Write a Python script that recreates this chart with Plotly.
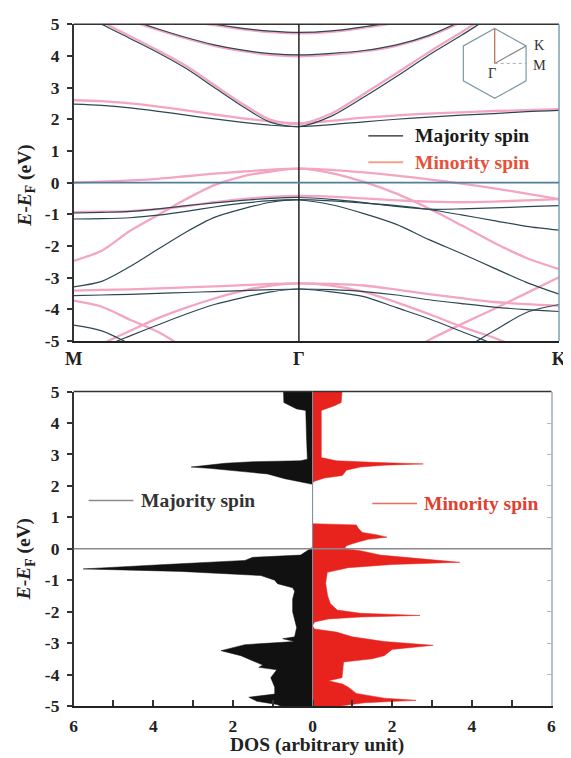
import plotly.graph_objects as go

# ---------------- data: band structure ----------------
# k-path coordinate (M -> Gamma -> K), |GM| = 0.866 |GK|
k_path = [0.0, 0.108, 0.217, 0.325, 0.433, 0.541, 0.650, 0.758, 0.866,
          0.991, 1.116, 1.241, 1.366, 1.491, 1.616, 1.741, 1.866]
k_ticks = [0.0, 0.866, 1.866]
k_labels = ["M", "Γ", "K"]

# majority-spin bands (eV)
maj_A = [2.48, 2.44, 2.36, 2.25, 2.13, 2.01, 1.90, 1.81, 1.77, 1.83, 1.92, 2.00, 2.07, 2.13, 2.18, 2.24, 2.28]
maj_B = [5.50, 5.00, 4.55, 4.10, 3.60, 3.00, 2.40, 1.90, 1.77, 2.10, 2.70, 3.35, 4.03, 4.65, 5.30, 5.90, 6.50]
maj_C = [5.90, 5.50, 5.15, 4.85, 4.58, 4.35, 4.18, 4.07, 4.03, 4.08, 4.17, 4.35, 4.65, 5.10, 5.60, 6.10, 6.60]
maj_D = [6.00, 5.80, 5.60, 5.40, 5.15, 5.00, 4.87, 4.78, 4.74, 4.79, 4.92, 5.08, 5.30, 5.50, 5.70, 5.90, 6.00]
maj_F = [-1.15, -1.14, -1.11, -1.03, -0.91, -0.77, -0.65, -0.57, -0.54, -0.58, -0.65, -0.73, -0.85, -1.02, -1.20, -1.38, -1.50]
maj_G = [-0.96, -0.94, -0.91, -0.83, -0.73, -0.64, -0.56, -0.50, -0.47, -0.53, -0.63, -0.75, -0.84, -0.83, -0.80, -0.76, -0.73]
maj_H = [-3.29, -3.12, -2.65, -2.10, -1.56, -1.10, -0.83, -0.62, -0.55, -0.70, -0.98, -1.32, -1.80, -2.24, -2.70, -3.15, -3.52]
maj_I = [-3.57, -3.55, -3.53, -3.50, -3.47, -3.44, -3.41, -3.38, -3.36, -3.38, -3.44, -3.55, -3.70, -3.82, -3.93, -4.01, -4.07]
maj_J1 = [-4.50, -4.68, -5.10, -5.60, -6.10, None, None, None, None, None, None, None, None, None, None, None, None]
maj_J2 = [-5.60, -5.20, -4.84, -4.49, -4.15, -3.85, -3.63, -3.45, -3.36, -3.45, -3.60, -3.95, -4.30, -4.70, -5.10, -5.50, -5.90]
maj_L = [None, None, None, None, None, None, None, None, None, None, None, None, -5.90, -5.30, -4.68, -4.10, -3.85]

# minority-spin bands (eV)
min_A = [2.60, 2.57, 2.50, 2.40, 2.28, 2.15, 2.03, 1.93, 1.87, 1.95, 2.05, 2.12, 2.18, 2.22, 2.26, 2.29, 2.32]
min_B = [5.60, 5.08, 4.62, 4.17, 3.68, 3.08, 2.48, 1.98, 1.85, 2.18, 2.80, 3.45, 4.12, 4.75, 5.40, 6.00, 6.60]
min_C = [5.90, 5.50, 5.12, 4.82, 4.55, 4.32, 4.15, 4.03, 3.99, 4.04, 4.14, 4.32, 4.62, 5.07, 5.60, 6.10, 6.60]
min_D = [6.00, 5.80, 5.60, 5.40, 5.12, 4.97, 4.84, 4.75, 4.71, 4.76, 4.89, 5.05, 5.27, 5.47, 5.70, 5.90, 6.00]
min_Z = [0.00, 0.03, 0.07, 0.12, 0.20, 0.28, 0.35, 0.41, 0.44, 0.40, 0.32, 0.22, 0.10, -0.03, -0.18, -0.35, -0.52]
min_H = [-2.47, -2.15, -1.52, -1.02, -0.52, -0.08, 0.20, 0.35, 0.44, 0.30, 0.02, -0.35, -0.82, -1.35, -1.90, -2.38, -2.73]
min_G = [-0.93, -0.92, -0.90, -0.84, -0.74, -0.62, -0.52, -0.45, -0.42, -0.44, -0.50, -0.56, -0.60, -0.62, -0.60, -0.56, -0.52]
min_I = [-3.41, -3.39, -3.37, -3.34, -3.31, -3.28, -3.24, -3.20, -3.18, -3.20, -3.25, -3.38, -3.52, -3.65, -3.77, -3.84, -3.89]
min_J2 = [-5.60, -5.10, -4.68, -4.28, -3.95, -3.66, -3.42, -3.25, -3.18, -3.25, -3.45, -3.78, -4.15, -4.55, -4.90, -5.30, -5.70]
min_J3 = [-3.73, -3.92, -4.33, -4.72, -5.25, -5.80, None, None, None, None, None, None, None, None, None, None, None]
min_L = [None, None, None, None, None, None, None, None, None, None, None, -5.50, -4.97, -4.47, -3.99, -3.49, -2.99]

majority_bands = [maj_A, maj_B, maj_C, maj_D, maj_F, maj_G, maj_H, maj_I, maj_J1, maj_J2, maj_L]
minority_bands = [min_A, min_B, min_C, min_D, min_Z, min_H, min_G, min_I, min_J2, min_J3, min_L]

# ---------------- data: DOS ----------------
e_maj = [5.0, 4.65, 4.45, 4.4, 3.5, 2.85, 2.8, 2.77, 2.72, 2.65, 2.6, 2.56, 2.49, 2.38, 2.23, 2.12, 2.05,
         0.05, -0.05, -0.2, -0.27, -0.37, -0.5, -0.64, -0.72, -0.85, -1.0, -1.11, -1.24, -1.35, -1.6, -2.0,
         -2.5, -2.8, -2.86, -2.95, -3.05, -3.24, -3.4, -3.55, -3.7, -3.77, -3.85, -4.1, -4.4, -4.62, -4.72,
         -4.85, -4.95, -5.0]
dos_maj = [0.73, 0.72, 0.40, 0.17, 0.15, 0.13, 0.30, 1.5, 2.2, 2.8, 3.05, 2.6, 1.97, 1.13, 0.70, 0.30, 0.0,
           0.0, 0.12, 0.30, 1.5, 1.7, 3.7, 5.76, 3.3, 1.3, 0.95, 0.88, 0.50, 0.45, 0.50, 0.50,
           0.40, 0.45, 0.75, 0.45, 1.7, 2.3, 1.8, 1.5, 1.25, 1.35, 0.90, 1.05, 0.95, 0.95, 1.6,
           1.4, 0.90, 0.80]

e_min = [5.0, 4.65, 4.55, 4.45, 4.4, 2.9, 2.8, 2.75, 2.7, 2.66, 2.6, 2.5, 2.4, 2.33, 2.25, 2.15, 2.1,
         0.8, 0.76, 0.65, 0.52, 0.45, 0.37, 0.3, 0.2, 0.1, 0.0, -0.06, -0.2, -0.43, -0.5, -0.6, -0.75,
         -1.1, -1.5, -1.75, -1.95, -2.05, -2.12, -2.17, -2.23, -2.33, -2.45, -2.55, -2.65, -2.8, -2.95,
         -3.07, -3.2, -3.4, -3.5, -3.6, -4.1, -4.2, -4.3, -4.4, -4.6, -4.75, -4.82, -4.9, -5.0]
dos_min = [0.74, 0.72, 0.55, 0.35, 0.22, 0.22, 0.6, 1.5, 2.78, 1.8, 1.2, 0.85, 0.8, 0.75, 0.3, 0.05, 0.0,
           0.0, 1.1, 1.15, 1.25, 1.6, 1.87, 1.4, 1.1, 0.85, 0.8, 1.2, 1.7, 3.7, 2.0, 0.9, 0.37,
           0.33, 0.38, 0.45, 0.62, 1.2, 2.7, 1.2, 0.4, 0.05, 0.0, 0.05, 0.6, 1.0, 1.8,
           3.03, 2.0, 1.8, 1.5, 0.78, 0.74, 0.4, 0.75, 0.9, 1.1, 1.8, 2.6, 1.3, 0.7]

dos_ticks = [-6, -4, -2, 0, 2, 4, 6]
dos_ticktext = ["6", "4", "2", "0", "2", "4", "6"]
e_ticks = [-5, -4, -3, -2, -1, 0, 1, 2, 3, 4, 5]
e_ticktext = ["-5", "-4", "-3", "-2", "-1", "0", "1", "2", "3", "4", "5"]

# ---------------- layout helpers (target picture pixels -> paper) ----------------
W, H = 570, 760
S = 0.9746          # observed picture scale
TX, TY = 15.5, 17.5  # observed origin offset of the figure


def fx(px):
    return (px / S - TX) / W


def fy(py):
    return 1 - (py / S - TY) / H


def fs(size):
    return size / S


FONT = "Liberation Serif"
MAJ_COLOR = "#2c4753"
MIN_COLOR = "#f3a5c2"
RED = "#e8231e"

fig = go.Figure()

for band in minority_bands:
    fig.add_trace(go.Scatter(x=k_path, y=band, mode="lines", line=dict(color=MIN_COLOR, width=2.3, shape="spline", smoothing=0.8),
                             xaxis="x", yaxis="y", showlegend=False, hoverinfo="skip"))
for band in majority_bands:
    fig.add_trace(go.Scatter(x=k_path, y=band, mode="lines", line=dict(color=MAJ_COLOR, width=1.2, shape="spline", smoothing=0.8),
                             xaxis="x", yaxis="y", showlegend=False, hoverinfo="skip"))

fig.add_trace(go.Scatter(x=[-d for d in dos_maj], y=e_maj, mode="lines", fill="tozerox", fillcolor="#111111",
                         line=dict(color="#111111", width=0.5), xaxis="x2", yaxis="y2", showlegend=False))
fig.add_trace(go.Scatter(x=dos_min, y=e_min, mode="lines", fill="tozerox", fillcolor=RED,
                         line=dict(color=RED, width=0.5), xaxis="x2", yaxis="y2", showlegend=False))
fig.add_trace(go.Scatter(x=[None], y=[None], xaxis="x2", yaxis="y3", showlegend=False))

tick_font = dict(family=FONT, size=fs(17), color="#222", weight="bold")

fig.update_layout(
    width=W, height=H, margin=dict(l=0, r=0, t=0, b=0),
    paper_bgcolor="white", plot_bgcolor="white",
    font=dict(family=FONT),
    xaxis=dict(domain=[fx(72), fx(559.6)], range=[0, 1.866], anchor="y", tickmode="array",
               tickvals=k_ticks, ticktext=k_labels, ticks="", showgrid=False, zeroline=False,
               showline=True, linecolor="#222", linewidth=2,
               tickfont=dict(family=FONT, size=fs(18), color="#222", weight="bold"), ticklabelstandoff=0),
    yaxis=dict(domain=[fy(340.3), fy(23.3)], range=[-5, 5], anchor="x", tickmode="array",
               tickvals=e_ticks, ticktext=e_ticktext, ticks="outside", ticklen=5, tickwidth=1.5,
               tickcolor="#333", showgrid=False, zeroline=False, showline=True, linecolor="#333",
               linewidth=1.5, tickfont=tick_font, ticklabelstandoff=4),
    xaxis2=dict(domain=[fx(72), fx(552)], range=[-6, 6], anchor="y2", tickmode="array",
                tickvals=dos_ticks, ticktext=dos_ticktext, ticks="inside", ticklen=6, tickwidth=1.5,
                tickcolor="#333", showgrid=False, zeroline=False, showline=True, linecolor="#222",
                linewidth=2, tickfont=tick_font, ticklabelstandoff=3,
                minor=dict(tickmode="linear", tick0=-6, dtick=1, ticks="inside", ticklen=6,
                           tickwidth=1.5, tickcolor="#333", showgrid=False)),
    yaxis2=dict(domain=[fy(705.7), fy(391)], range=[-5, 5], anchor="x2", tickmode="array",
                tickvals=e_ticks, ticktext=e_ticktext, ticks="outside", ticklen=5, tickwidth=1.5,
                tickcolor="#333", showgrid=False, zeroline=False, showline=True, linecolor="#333",
                linewidth=1.5, tickfont=tick_font, ticklabelstandoff=4),
    yaxis3=dict(overlaying="y2", side="right", anchor="x2", range=[-5, 5], tickmode="array",
                tickvals=e_ticks, ticks="inside", ticklen=5, tickcolor="#b0b8c0", showticklabels=False,
                showgrid=False, zeroline=False, showline=True, linecolor="#b8c0c8", linewidth=1.5),
)

shapes = []
# top panel frame
shapes.append(dict(type="line", xref="x domain", yref="y domain", x0=0, x1=1, y0=1, y1=1, line=dict(color="#333", width=1.5)))
shapes.append(dict(type="line", xref="x domain", yref="y domain", x0=1, x1=1, y0=0, y1=1, line=dict(color="#7f9fb0", width=1.5)))
shapes.append(dict(type="line", xref="x", yref="y domain", x0=k_ticks[1], x1=k_ticks[1], y0=0, y1=1, line=dict(color="#222", width=1.5)))
shapes.append(dict(type="line", xref="x domain", yref="y", x0=0, x1=1, y0=0, y1=0, line=dict(color="#4f8096", width=1.8)))
# bottom panel frame and zero lines
shapes.append(dict(type="line", xref="x2 domain", yref="y2 domain", x0=0, x1=1, y0=1, y1=1, line=dict(color="#333", width=1.5)))
shapes.append(dict(type="line", xref="x2 domain", yref="y2", x0=0, x1=1, y0=0, y1=0, line=dict(color="#8a8a8a", width=1.5)))
shapes.append(dict(type="line", xref="x2", yref="y2 domain", x0=0, x1=0, y0=0, y1=1, line=dict(color="#7a95a5", width=1)))

# legend lines
shapes.append(dict(type="line", xref="paper", yref="paper", x0=fx(368), x1=fx(403), y0=fy(135), y1=fy(135), line=dict(color="#222", width=1.3)))
shapes.append(dict(type="line", xref="paper", yref="paper", x0=fx(368), x1=fx(403), y0=fy(161.5), y1=fy(161.5), line=dict(color="#f4a08e", width=2)))
shapes.append(dict(type="line", xref="paper", yref="paper", x0=fx(87), x1=fx(132), y0=fy(500), y1=fy(500), line=dict(color="#8a8a8a", width=1.3)))
shapes.append(dict(type="line", xref="paper", yref="paper", x0=fx(372), x1=fx(417), y0=fy(503), y1=fy(503), line=dict(color="#ee6a5a", width=1.3)))

# Brillouin-zone inset
cx, cy = 495, 62.5
hexv = [(495, 27.5), (526.5, 45), (526.5, 80), (495, 97.5), (463.5, 80), (463.5, 45)]
path = "M " + " L ".join(f"{fx(a):.5f},{fy(b):.5f}" for a, b in hexv) + " Z"
shapes.append(dict(type="path", xref="paper", yref="paper", path=path, line=dict(color="#7d9aa8", width=1.2)))
shapes.append(dict(type="line", xref="paper", yref="paper", x0=fx(cx), x1=fx(495), y0=fy(cy), y1=fy(27.5), line=dict(color="#b86a45", width=1.2)))
shapes.append(dict(type="line", xref="paper", yref="paper", x0=fx(cx), x1=fx(526.5), y0=fy(cy), y1=fy(45), line=dict(color="#8a8580", width=1.2)))
shapes.append(dict(type="line", xref="paper", yref="paper", x0=fx(cx), x1=fx(526.5), y0=fy(cy), y1=fy(cy), line=dict(color="#9ab0bc", width=1, dash="dot")))

fig.update_layout(shapes=shapes)

ann = []
ann.append(dict(x=fx(413), y=fy(135), xref="paper", yref="paper", text="<b>Majority spin</b>", showarrow=False,
                xanchor="left", yanchor="middle", font=dict(family=FONT, size=fs(19), color="#1a1a1a")))
ann.append(dict(x=fx(413), y=fy(161.5), xref="paper", yref="paper", text="<b>Minority spin</b>", showarrow=False,
                xanchor="left", yanchor="middle", font=dict(family=FONT, size=fs(19), color="#e8503a")))
ann.append(dict(x=fx(138), y=fy(500), xref="paper", yref="paper", text="<b>Majority spin</b>", showarrow=False,
                xanchor="left", yanchor="middle", font=dict(family=FONT, size=fs(19), color="#333")))
ann.append(dict(x=fx(422), y=fy(503), xref="paper", yref="paper", text="<b>Minority spin</b>", showarrow=False,
                xanchor="left", yanchor="middle", font=dict(family=FONT, size=fs(19), color="#e0402e")))
# inset labels
ann.append(dict(x=fx(532), y=fy(44), xref="paper", yref="paper", text="K", showarrow=False,
                xanchor="left", yanchor="middle", font=dict(family=FONT, size=fs(14), color="#333")))
ann.append(dict(x=fx(531), y=fy(64), xref="paper", yref="paper", text="M", showarrow=False,
                xanchor="left", yanchor="middle", font=dict(family=FONT, size=fs(14), color="#333")))
ann.append(dict(x=fx(492), y=fy(72), xref="paper", yref="paper", text="Γ", showarrow=False,
                xanchor="center", yanchor="middle", font=dict(family=FONT, size=fs(14), color="#333")))
# axis titles
ytitle = "<b><i>E</i>-<i>E</i><sub>F</sub> (eV)</b>"
ann.append(dict(x=fx(24), y=fy(185), xref="paper", yref="paper", text=ytitle, textangle=-90, showarrow=False,
                xanchor="center", yanchor="middle", font=dict(family=FONT, size=fs(19), color="#222")))
ann.append(dict(x=fx(24), y=fy(559), xref="paper", yref="paper", text=ytitle, textangle=-90, showarrow=False,
                xanchor="center", yanchor="middle", font=dict(family=FONT, size=fs(19), color="#222")))
ann.append(dict(x=fx(316), y=fy(745), xref="paper", yref="paper", text="<b>DOS (arbitrary unit)</b>", showarrow=False,
                xanchor="center", yanchor="middle", font=dict(family=FONT, size=fs(19), color="#222")))
fig.update_layout(annotations=ann)

fig.write_html("out.html")
